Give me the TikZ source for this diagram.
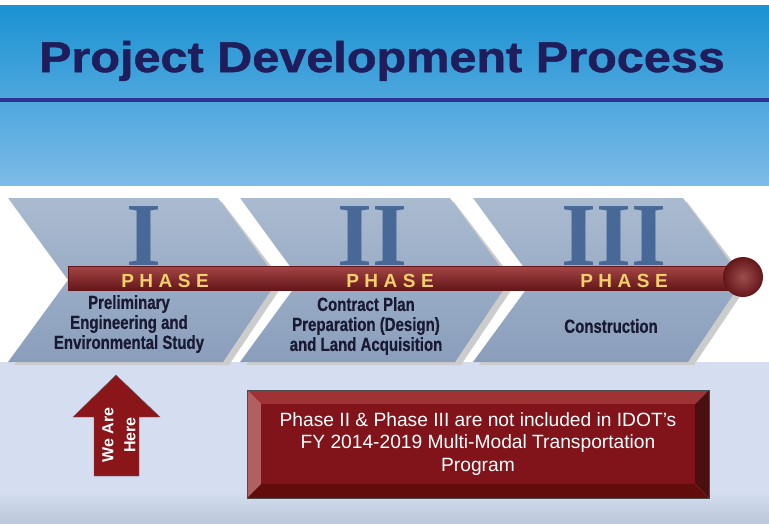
\documentclass[tikz,border=0pt]{standalone}
\usepackage{fontspec}
\setmainfont{Liberation Sans}
\newfontfamily\titlefont{Liberation Sans}[FakeStretch=1.13,FakeBold=1.2]
\newfontfamily\condfont{Liberation Sans}[FakeStretch=0.79,FakeBold=0.6]
\newfontfamily\phasefont{Liberation Sans}[LetterSpace=29]
\newfontfamily\numfont{Liberation Serif}
\usetikzlibrary{positioning}

\definecolor{bandtop}{RGB}{26,146,210}
\definecolor{bandbot}{RGB}{125,186,232}
\definecolor{rulebar}{RGB}{45,50,145}
\definecolor{titleblue}{RGB}{31,29,92}
\definecolor{chevtop}{RGB}{170,187,208}
\definecolor{chevbot}{RGB}{138,158,188}
\definecolor{numblue}{RGB}{72,104,152}
\definecolor{barred}{RGB}{139,45,46}
\definecolor{bardark}{RGB}{100,22,25}
\definecolor{barlight}{RGB}{165,70,70}
\definecolor{phasegold}{RGB}{242,208,107}
\definecolor{textnavy}{RGB}{25,25,50}
\definecolor{panel}{RGB}{212,222,240}
\definecolor{panelbot}{RGB}{188,199,219}
\definecolor{arrowred}{RGB}{139,22,26}
\definecolor{boxface}{RGB}{128,20,26}
\definecolor{boxtop}{RGB}{158,50,53}
\definecolor{boxleft}{RGB}{176,96,96}
\definecolor{boxright}{RGB}{74,16,16}
\definecolor{boxbottom}{RGB}{98,12,12}

\tikzset{
  numeral/.style={font=\numfont\bfseries\fontsize{90}{90}\selectfont, text=numblue, anchor=base, inner sep=0pt, text depth=0pt},
  phaselabel/.style={font=\phasefont\bfseries\fontsize{19}{19}\selectfont, text=phasegold, anchor=base, inner sep=0pt},
  desc/.style={font=\condfont\bfseries\fontsize{19}{20}\selectfont, text=textnavy, align=center, inner sep=0pt},
}

\begin{document}
\begin{tikzpicture}[x=1pt,y=-1pt]
    \useasboundingbox (0,0) rectangle (769,523);
    \fill[white] (0,0) rectangle (769,523);
    % title band
    \shade[top color=bandtop, bottom color=bandbot] (0,5) rectangle (769,185);
    \fill[rulebar] (0,98) rectangle (769,102);
    \node[font=\titlefont\bfseries\fontsize{43}{43}\selectfont, text=titleblue, anchor=base] (title) at (382,72) {Project Development Process};
    % lower panel
    \fill[panel] (0,362) rectangle (769,523);
    \shade[top color=panel, bottom color=panelbot] (0,492) rectangle (769,523);
    % chevrons
    \foreach \x in {8,240,473} {
        \fill[gray!40] (\x+6,202) -- (\x+214,202) -- (\x+276,283) -- (\x+221,365) -- (\x+6,365) -- (\x+66,283) -- cycle;
        \shade[top color=chevtop, bottom color=chevbot] (\x,198) -- (\x+210,198) -- (\x+270,280) -- (\x+215,362) -- (\x,362) -- (\x+60,280) -- cycle;
    }
    \node[numeral] (numI) at (144,265) {I};
    \node[numeral] (numII) at (373,265) {II};
    \node[numeral] (numIII) at (614,265) {III};
    % phase bar
    \shade[top color=barlight, middle color=barred, bottom color=bardark] (68,266) rectangle (743,290);
    \draw[bardark] (68,266) rectangle (743,290);
    \shade[inner color=barred!85!white, outer color=bardark] (743,277) circle[radius=20];
    \node[phaselabel] (phaseI) at (165,287) {PHASE};
    \node[phaselabel] (phaseII) at (390,287) {PHASE};
    \node[phaselabel] (phaseIII) at (624,287) {PHASE};
    \node[desc] (descI) at (129,324) {Preliminary\\Engineering and\\Environmental Study};
    \node[desc] (descII) at (366,326) {Contract Plan\\Preparation (Design)\\and Land Acquisition};
    \node[desc] (descIII) at (611,326) {Construction};
    % we are here arrow
    \fill[arrowred, draw=black!60, thin] (116,375) -- (160,417) -- (139,417) -- (139,476) -- (94,476) -- (94,417) -- (73,417) -- cycle;
    \node[rotate=90, font=\bfseries\fontsize{16}{22}\selectfont, text=white, align=center] (here) at (119,435) {We Are\\Here};
    % note box
    \fill[boxtop] (247,390) -- (709,390) -- (695,404) -- (261,404) -- cycle;
    \fill[boxleft] (247,390) -- (261,404) -- (261,484) -- (247,498) -- cycle;
    \fill[boxright] (709,390) -- (709,498) -- (695,484) -- (695,404) -- cycle;
    \fill[boxbottom] (247,498) -- (709,498) -- (695,484) -- (261,484) -- cycle;
    \fill[boxface] (261,404) rectangle (695,484);
    \draw[black!70, thin] (247,390) rectangle (709,498);
    \node[font=\fontsize{19.2}{22.5}\selectfont, text=white, align=center] (note) at (478,444) {Phase II \& Phase III are not included in IDOT’s\\FY 2014-2019 Multi-Modal Transportation\\Program};
\end{tikzpicture}
\end{document}
